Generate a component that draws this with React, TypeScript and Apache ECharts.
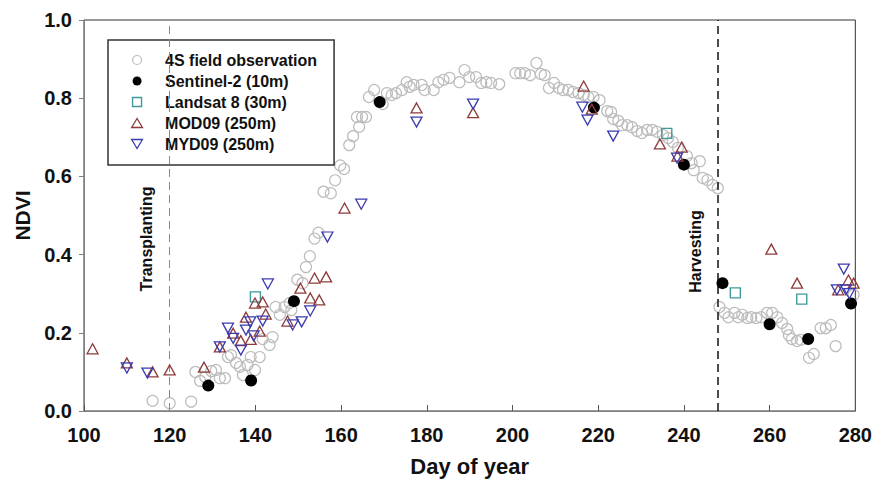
import React, { useEffect, useRef } from "react";
import * as echarts from "echarts";

// ---- Data (day of year, NDVI) ----
const fieldObs: [number, number][] = [
  [116, 0.026], [120, 0.02], [125, 0.024],
  [126, 0.1], [127.1, 0.077], [128.3, 0.087], [129.7, 0.102], [130.8, 0.105], [131.7, 0.084],
  [132.9, 0.084], [133.6, 0.138], [134.3, 0.143], [135.5, 0.123], [136.4, 0.113], [137.1, 0.092],
  [138.2, 0.118], [138.9, 0.138], [139.9, 0.105], [141, 0.138], [141.7, 0.184], [143.3, 0.169],
  [144, 0.189], [144.7, 0.266], [145.7, 0.246], [146.8, 0.266], [148, 0.276], [148.4, 0.258],
  [149.8, 0.336], [151, 0.327], [151.8, 0.368], [152.7, 0.396], [153.8, 0.441], [154.7, 0.456],
  [155.9, 0.561], [157.6, 0.557], [158.6, 0.59], [159.8, 0.628], [160.7, 0.619], [161.9, 0.68],
  [162.8, 0.703], [164.2, 0.727], [163.7, 0.752], [164.9, 0.752], [165.8, 0.752], [166.5, 0.803],
  [167.7, 0.821], [169.7, 0.785], [170.7, 0.813], [171.8, 0.808], [172.8, 0.813], [174.2, 0.821],
  [175.3, 0.841], [176, 0.829], [176.9, 0.834], [178.8, 0.834], [179.5, 0.821], [181.6, 0.821],
  [182.7, 0.841], [183.9, 0.847], [185.3, 0.852], [187.6, 0.841], [188.8, 0.872], [189.9, 0.854],
  [191.5, 0.854], [192.7, 0.839], [193.9, 0.841], [195, 0.839], [196.9, 0.836],
  [200.7, 0.864], [201.8, 0.864], [202.9, 0.864], [204.1, 0.859], [205.6, 0.89], [206.6, 0.862],
  [207.5, 0.859], [208.5, 0.826], [209.7, 0.839], [210.8, 0.826], [211.8, 0.821], [213, 0.821],
  [214.1, 0.816], [215.4, 0.813], [216.6, 0.808], [217.7, 0.803], [218.9, 0.803], [220.3, 0.795],
  [222.1, 0.767], [223, 0.765], [223.5, 0.747], [224.7, 0.742], [225.6, 0.731], [226.8, 0.731],
  [227.9, 0.726], [229.1, 0.716], [230.2, 0.711], [231.4, 0.719], [232.6, 0.719], [233.7, 0.714],
  [235.1, 0.706], [236.3, 0.698], [237.4, 0.688], [238.6, 0.673], [240.7, 0.652], [241.8, 0.634],
  [242.3, 0.616], [243.7, 0.639], [244.4, 0.596], [245.5, 0.591], [246.7, 0.578], [247.9, 0.57],
  [248.3, 0.266], [249.5, 0.251], [250.4, 0.24], [251.8, 0.251], [252.7, 0.24], [253.6, 0.246],
  [254.8, 0.238], [255.7, 0.24], [256.9, 0.238], [258, 0.24], [259.4, 0.251], [260.6, 0.251],
  [261.8, 0.24], [262.9, 0.225], [264.1, 0.21], [264.5, 0.194], [265.2, 0.184], [266.4, 0.179],
  [267.3, 0.182], [269.2, 0.136], [270.3, 0.146], [271.9, 0.212], [273.1, 0.212], [274.3, 0.22],
  [275.4, 0.166], [279.6, 0.297],
];

const sentinel2: [number, number][] = [
  [129, 0.065], [139, 0.078], [149, 0.281], [169, 0.79], [219, 0.776],
  [240, 0.63], [249, 0.327], [260, 0.222], [269, 0.184], [279, 0.275],
];

const landsat8: [number, number][] = [
  [140, 0.292], [236, 0.71], [252, 0.302], [267.5, 0.286],
];

const mod09: [number, number][] = [
  [102, 0.159], [110, 0.123], [116, 0.1], [120, 0.105], [128, 0.112], [131.7, 0.164],
  [134.8, 0.199], [136.6, 0.18], [137.8, 0.24], [138.9, 0.183], [139.9, 0.276], [141, 0.204],
  [141.7, 0.279], [142.4, 0.248], [147.5, 0.23], [150.5, 0.314], [152.8, 0.289], [153.8, 0.34],
  [154.9, 0.284], [156.5, 0.343], [160.8, 0.519], [177.6, 0.775], [190.8, 0.763], [216.6, 0.831],
  [218.5, 0.772], [234.4, 0.683], [238.5, 0.652], [239.5, 0.675], [260.4, 0.414], [266.4, 0.327],
  [276, 0.31], [278.4, 0.335], [279.6, 0.327],
];

const myd09: [number, number][] = [
  [110, 0.11], [114.8, 0.097], [131.7, 0.164], [133.6, 0.212], [134.8, 0.186], [136.6, 0.156],
  [137.8, 0.207], [138.8, 0.228], [139.6, 0.192], [141.7, 0.23], [142.9, 0.325], [148.7, 0.22],
  [150.8, 0.228], [152.8, 0.256], [156.8, 0.445], [164.7, 0.529], [177.6, 0.739], [190.8, 0.785],
  [216.3, 0.777], [217.5, 0.744], [223.5, 0.703], [238.4, 0.647], [275.7, 0.31], [277.3, 0.363],
  [277.8, 0.31], [278.6, 0.3],
];

const seriesNames = [
  "4S field observation",
  "Sentinel-2 (10m)",
  "Landsat 8 (30m)",
  "MOD09 (250m)",
  "MYD09 (250m)",
];

const events = [
  { label: "Transplanting", day: 120, labelDay: 114.6, labelNdvi: 0.44 },
  { label: "Harvesting", day: 248, labelDay: 242.7, labelNdvi: 0.408 },
];

const FONT = "'Liberation Sans', Arial, Helvetica, sans-serif";
const C_OBS = "#bdbdbd";
const C_S2 = "#000000";
const C_L8 = "#3f9a9a";
const C_MOD = "#8e3b3b";
const C_MYD = "#3b3bb0";

const ICON_CIRCLE = "path://M5,0A5,5,0,1,1,5,10A5,5,0,1,1,5,0Z";
const ICON_SQUARE = "path://M0,0L10,0L10,10L0,10Z";
const ICON_UP = "path://M5,0L10.4,9L-0.4,9Z";
const ICON_DOWN = "path://M-0.4,0L10.4,0L5,9Z";

export default function App() {
  const ref = useRef<HTMLDivElement>(null);

  useEffect(() => {
    if (!ref.current) return;
    const chart = echarts.init(ref.current, undefined, { renderer: "svg" });

    const option: any = {
      animation: false,
      backgroundColor: "#ffffff",
      textStyle: { fontFamily: FONT },
      grid: {
        left: 84,
        right: 13,
        top: 20,
        bottom: 72,
        show: true,
        borderColor: "#333",
        borderWidth: 1,
        backgroundColor: "transparent",
      },
      legend: {
        orient: "vertical",
        left: 108,
        top: 40,
        padding: [12, 17, 13, 23],
        itemWidth: 46,
        itemHeight: 9,
        itemGap: 5,
        borderColor: "#333",
        borderWidth: 1.5,
        backgroundColor: "#fff",
        selectedMode: false,
        symbolKeepAspect: true,
        textStyle: {
          fontSize: 16,
          fontWeight: "bold",
          color: "#111",
          fontFamily: FONT,
          lineHeight: 16,
        },
        data: [
          { name: seriesNames[0], icon: ICON_CIRCLE, itemStyle: { color: "transparent", borderColor: C_OBS, borderWidth: 1.2, opacity: 1 } },
          { name: seriesNames[1], icon: ICON_CIRCLE, itemStyle: { color: C_S2, borderWidth: 0, opacity: 1 } },
          { name: seriesNames[2], icon: ICON_SQUARE, itemStyle: { color: "transparent", borderColor: C_L8, borderWidth: 1.4, opacity: 1 } },
          { name: seriesNames[3], icon: ICON_UP, itemStyle: { color: "transparent", borderColor: C_MOD, borderWidth: 1.3, opacity: 1 } },
          { name: seriesNames[4], icon: ICON_DOWN, itemStyle: { color: "transparent", borderColor: C_MYD, borderWidth: 1.3, opacity: 1 } },
        ],
      },
      xAxis: {
        type: "value",
        min: 100,
        max: 280,
        interval: 20,
        name: "Day of year",
        nameLocation: "middle",
        nameGap: 44,
        nameTextStyle: { fontSize: 22, fontWeight: "bold", color: "#111", fontFamily: FONT },
        axisLine: { show: true, lineStyle: { color: "#808080", width: 1 } },
        axisTick: { show: true, inside: true, length: 6, lineStyle: { color: "#555" } },
        axisLabel: { fontSize: 20, fontWeight: "bold", color: "#111", margin: 14, fontFamily: FONT },
        splitLine: { show: false },
      },
      yAxis: {
        type: "value",
        min: 0,
        max: 1,
        interval: 0.2,
        name: "NDVI",
        nameLocation: "middle",
        nameGap: 41,
        nameTextStyle: { fontSize: 21, fontWeight: "bold", color: "#111", fontFamily: FONT },
        axisLine: { show: true, lineStyle: { color: "#808080", width: 1 } },
        axisTick: { show: true, inside: false, length: 5, lineStyle: { color: "#808080" } },
        axisLabel: {
          fontSize: 20,
          fontWeight: "bold",
          color: "#111",
          margin: 12,
          fontFamily: FONT,
          formatter: (v: number) => v.toFixed(1),
        },
        splitLine: { show: false },
      },
      series: [
        {
          name: seriesNames[0],
          type: "scatter",
          data: fieldObs,
          symbol: "circle",
          symbolSize: 11,
          itemStyle: { color: "rgba(255,255,255,0)", borderColor: C_OBS, borderWidth: 1.2, opacity: 1 },
          markLine: {
            silent: true,
            symbol: "none",
            label: { show: false },
            data: [
              { xAxis: events[0].day, lineStyle: { color: "#888", type: [8, 5], width: 1 } },
              { xAxis: events[1].day, lineStyle: { color: "#111", type: [8, 5], width: 1.5 } },
            ],
          },
          z: 2,
        },
        {
          name: seriesNames[1],
          type: "scatter",
          data: sentinel2,
          symbol: "circle",
          symbolSize: 12,
          itemStyle: { color: C_S2, opacity: 1 },
          z: 3,
        },
        {
          name: seriesNames[2],
          type: "scatter",
          data: landsat8,
          symbol: "rect",
          symbolSize: 10,
          itemStyle: { color: "rgba(255,255,255,0)", borderColor: C_L8, borderWidth: 1.4, opacity: 1 },
          z: 4,
        },
        {
          name: seriesNames[3],
          type: "scatter",
          data: mod09,
          symbol: "triangle",
          symbolSize: [11, 10],
          itemStyle: { color: "rgba(255,255,255,0)", borderColor: C_MOD, borderWidth: 1.3, opacity: 1 },
          z: 5,
        },
        {
          name: seriesNames[4],
          type: "scatter",
          data: myd09,
          symbol: "triangle",
          symbolRotate: 180,
          symbolSize: [11, 10],
          itemStyle: { color: "rgba(255,255,255,0)", borderColor: C_MYD, borderWidth: 1.3, opacity: 1 },
          z: 6,
        },
      ],
    };

    chart.setOption(option);

    const graphic = events.map((ev) => {
      const p = chart.convertToPixel({ gridIndex: 0 }, [ev.labelDay, ev.labelNdvi]) as number[];
      return {
        type: "text",
        x: p[0],
        y: p[1],
        rotation: Math.PI / 2,
        z: 10,
        style: {
          text: ev.label,
          fill: "#111",
          font: `bold 16px ${FONT}`,
          align: "center",
          verticalAlign: "middle",
        },
      };
    });
    chart.setOption({ graphic });

    return () => chart.dispose();
  }, []);

  return (
    <div
      ref={ref}
      style={{ position: "fixed", left: 0, top: 0, width: 875, height: 483, background: "#fff" }}
    />
  );
}
